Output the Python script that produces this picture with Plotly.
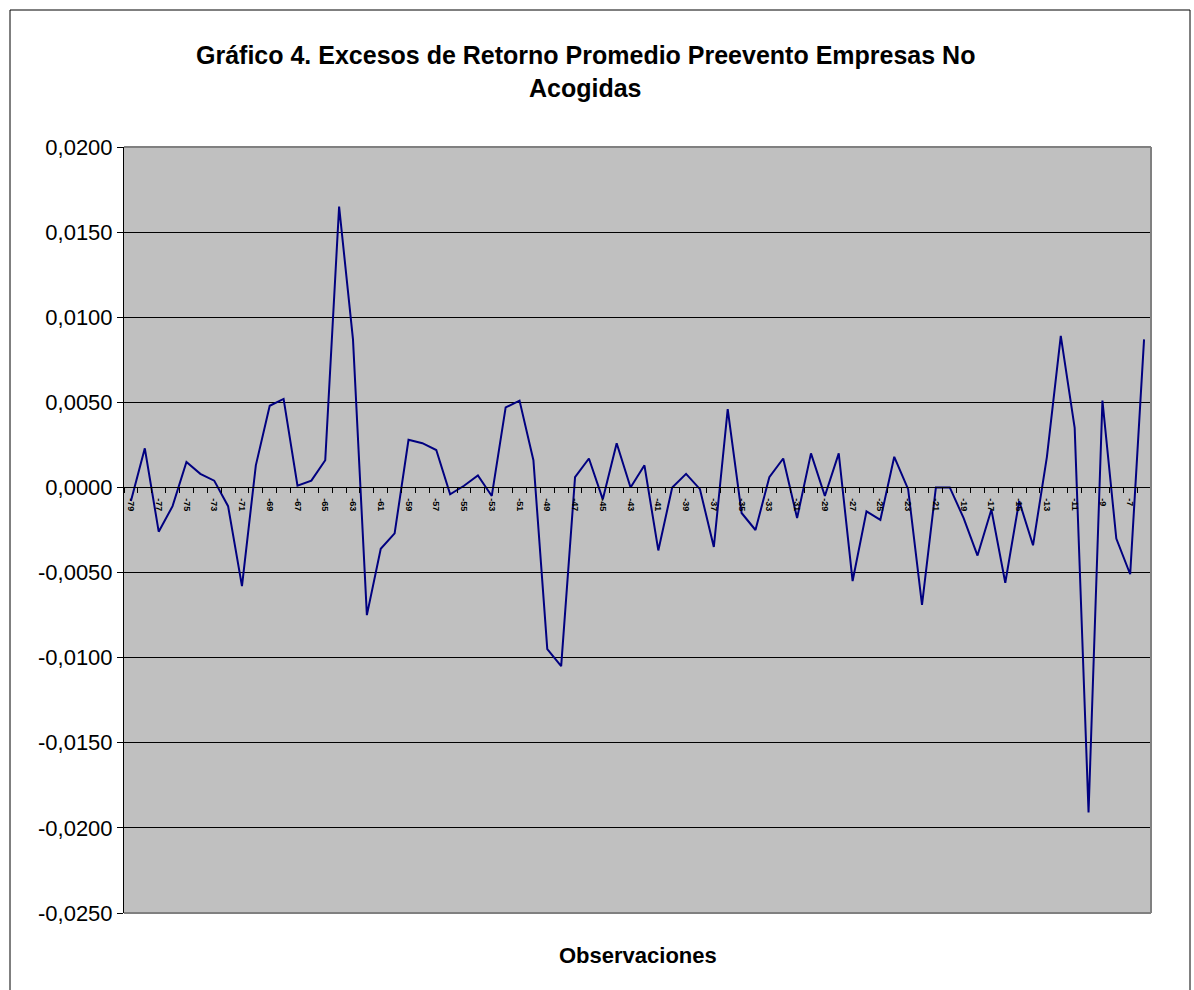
import plotly.graph_objects as go

# Event-window observations (days before the event)
observaciones = list(range(-79, -5))

# Average pre-event excess returns
exceso_retorno = [
    -0.0008, 0.0023, -0.0026, -0.0011, 0.0015, 0.0008, 0.0004, -0.0011, -0.0058, 0.0013,
    0.0048, 0.0052, 0.0001, 0.0004, 0.0016, 0.0165, 0.0087, -0.0075, -0.0036, -0.0027,
    0.0028, 0.0026, 0.0022, -0.0004, 0.0001, 0.0007, -0.0005, 0.0047, 0.0051, 0.0016,
    -0.0095, -0.0105, 0.0006, 0.0017, -0.0007, 0.0026, 0.0000, 0.0013, -0.0037, 0.0000,
    0.0008, -0.0001, -0.0035, 0.0046, -0.0015, -0.0025, 0.0006, 0.0017, -0.0018, 0.0020,
    -0.0005, 0.0020, -0.0055, -0.0014, -0.0019, 0.0018, -0.0001, -0.0069, 0.0000, 0.0000,
    -0.0018, -0.0040, -0.0013, -0.0056, -0.0008, -0.0034, 0.0018, 0.0089, 0.0035, -0.0191,
    0.0051, -0.0030, -0.0051, 0.0087,
]

# Axis ticks
y_tickvals = [-0.025, -0.020, -0.015, -0.010, -0.005, 0.0, 0.005, 0.010, 0.015, 0.020]
y_ticktext = ["-0,0250", "-0,0200", "-0,0150", "-0,0100", "-0,0050",
              "0,0000", "0,0050", "0,0100", "0,0150", "0,0200"]
x_tickvals = list(range(-79, -5, 2))
x_ticktext = ["<b>%d</b>" % v for v in x_tickvals]

FONT = "Liberation Sans, Arial, sans-serif"
W, H = 1194, 990
L, R, T, B = 124, 43, 147, 77
PW, PH = W - L - R, H - T - B


def px_x(p):
    return (p - L) / PW


def px_y(p):
    return (H - B - p) / PH


x_range = [observaciones[0] - 0.5, observaciones[-1] + 0.5]
# category boundaries carry the tick marks
x_bounds = [observaciones[0] - 0.5 + k for k in range(len(observaciones) + 1)]

fig = go.Figure()
fig.add_trace(go.Scatter(
    x=observaciones, y=exceso_retorno, mode="lines",
    line=dict(color="#000080", width=2), showlegend=False,
    hoverinfo="x+y",
))
# carrier for the label axis
fig.add_trace(go.Scatter(
    x=[observaciones[0]], y=[None], xaxis="x2", mode="lines",
    showlegend=False, hoverinfo="skip",
))

y_min, y_max = -0.025, 0.020
zero_pos = (0 - y_min) / (y_max - y_min)

fig.update_layout(
    width=W, height=H,
    margin=dict(l=L, r=R, t=T, b=B, pad=0),
    paper_bgcolor="white",
    plot_bgcolor="#C0C0C0",
    font=dict(family=FONT, color="black"),
    xaxis=dict(
        range=x_range,
        anchor="free", position=zero_pos,
        showline=True, linecolor="black", linewidth=1,
        showgrid=False, zeroline=False,
        tickmode="array", tickvals=x_bounds, ticktext=[""] * len(x_bounds),
        ticks="outside", ticklen=5, tickcolor="black", tickwidth=1,
    ),
    xaxis2=dict(
        range=x_range, overlaying="x",
        anchor="free", position=zero_pos,
        showline=False, showgrid=False, zeroline=False,
        tickmode="array", tickvals=x_tickvals, ticktext=x_ticktext,
        ticks="outside", ticklen=8, tickcolor="rgba(0,0,0,0)", tickangle=90,
        tickfont=dict(size=9, family=FONT, color="black"),
    ),
    yaxis=dict(
        range=[y_min, y_max],
        showline=True, linecolor="black", linewidth=1,
        showgrid=True, gridcolor="black", gridwidth=1,
        zeroline=False,
        tickmode="array", tickvals=y_tickvals, ticktext=y_ticktext,
        ticks="outside", ticklen=6, tickcolor="black",
        tickfont=dict(size=22, family=FONT, color="black"),
    ),
    shapes=[
        # plot-area frame (top, right, bottom)
        dict(type="line", xref="paper", yref="paper", x0=0, x1=1, y0=1, y1=1,
             line=dict(color="#808080", width=2), layer="above"),
        dict(type="line", xref="paper", yref="paper", x0=1, x1=1, y0=0, y1=1,
             line=dict(color="#808080", width=2), layer="above"),
        dict(type="line", xref="paper", yref="paper", x0=0, x1=1, y0=0, y1=0,
             line=dict(color="#808080", width=2), layer="above"),
        # outer chart border
        dict(type="rect", xref="paper", yref="paper",
             x0=px_x(10), x1=px_x(1190), y0=px_y(1000), y1=px_y(10),
             line=dict(color="black", width=1), fillcolor="rgba(0,0,0,0)"),
    ],
    annotations=[
        dict(text="<b>Gráfico 4. Excesos de Retorno Promedio Preevento Empresas No</b>",
             xref="paper", yref="paper", x=px_x(585), y=px_y(55),
             xanchor="center", yanchor="middle", showarrow=False,
             font=dict(size=25, family=FONT, color="black")),
        dict(text="<b>Acogidas</b>",
             xref="paper", yref="paper", x=px_x(585), y=px_y(88),
             xanchor="center", yanchor="middle", showarrow=False,
             font=dict(size=25, family=FONT, color="black")),
        dict(text="<b>Observaciones</b>",
             xref="paper", yref="paper", x=0.5, y=px_y(955),
             xanchor="center", yanchor="middle", showarrow=False,
             font=dict(size=22, family=FONT, color="black")),
    ],
)

fig.write_html("out.html")
